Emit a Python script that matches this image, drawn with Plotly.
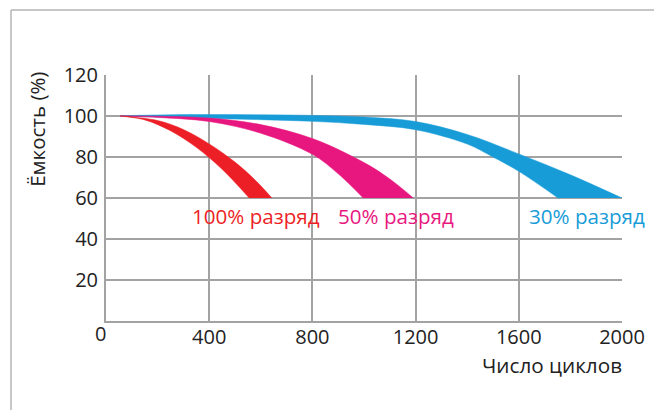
import plotly.graph_objects as go

# ---- data ----
x_ticks = [400, 800, 1200, 1600, 2000]
y_ticks = [20, 40, 60, 80, 100, 120]
y_grid = [20, 40, 60, 80, 100]

# 30% discharge (blue)
blue_up_c = [55, 200, 400, 600, 800, 1000, 1200, 1400, 1600, 1800, 2000]
blue_up_v = [100, 100.5, 100.7, 100.6, 100.3, 99.5, 97.3, 91, 81.5, 71.3, 60]
blue_lo_c = [55, 200, 400, 600, 800, 1000, 1200, 1400, 1500, 1600, 1752]
blue_lo_v = [100, 99.5, 98.8, 98.2, 97.4, 95.9, 93.3, 86.3, 80, 73, 60]

# 50% discharge (magenta)
mag_up_c = [55, 200, 400, 600, 800, 1000, 1100, 1191]
mag_up_v = [100, 99.9, 99.0, 95.8, 89, 77.3, 69.3, 60]
mag_lo_c = [55, 200, 400, 600, 800, 900, 997]
mag_lo_v = [100, 99.3, 97.3, 91.6, 81.3, 71.8, 60]

# 100% discharge (red)
red_up_c = [55, 200, 300, 400, 500, 580, 643]
red_up_v = [100, 97.8, 93.4, 86.4, 77.5, 68.5, 60]
red_lo_c = [55, 150, 250, 350, 450, 555]
red_lo_v = [100, 98.1, 92.8, 84.7, 74, 60]

labels = ["30% разряд", "50% разряд", "100% разряд"]
label_x = [1864, 1125, 581]
label_y = [51, 51, 51]

BLUE = "#189CD8"
MAG = "#E8177F"
RED = "#ED1F26"
GRID = "#A3A3A3"
TXT = "#222222"
FONT = "Open Sans"

fig = go.Figure()

bands = [
    (blue_up_c, blue_up_v, blue_lo_c, blue_lo_v, BLUE),
    (mag_up_c, mag_up_v, mag_lo_c, mag_lo_v, MAG),
    (red_up_c, red_up_v, red_lo_c, red_lo_v, RED),
]
for up_c, up_v, lo_c, lo_v, col in bands:
    # closed outline: upper edge from its end back to the start, then lower edge out
    xs = list(reversed(up_c)) + lo_c[1:]
    ys = list(reversed(up_v)) + lo_v[1:]
    fig.add_trace(go.Scatter(x=xs, y=ys, mode="lines", fill="toself", fillcolor=col,
                             line=dict(color=col, width=0.5, shape="spline", smoothing=1),
                             hoverinfo="skip", showlegend=False))

# secondary axis only for the horizontal grid lines
fig.add_trace(go.Scatter(x=[None], y=[None], yaxis="y2", showlegend=False))

annotations = []
for t, lx, ly, col in zip(labels, label_x, label_y, [BLUE, MAG, RED]):
    annotations.append(dict(x=lx, y=ly, xref="x", yref="y", text=t, showarrow=False,
                            font=dict(family=FONT, size=20.6, color=col),
                            xanchor="center", yanchor="middle"))
annotations.append(dict(x=0, y=0, xref="x", yref="y", text="0", showarrow=False,
                        font=dict(family=FONT, size=20, color=TXT),
                        xanchor="center", yanchor="middle", xshift=-6, yshift=-12))
annotations.append(dict(x=1, y=0, xref="paper", yref="paper", text="Число циклов",
                        showarrow=False, font=dict(family=FONT, size=20.7, color=TXT),
                        xanchor="right", yanchor="middle", yshift=-44, xshift=2))
annotations.append(dict(x=0, y=0.777, xref="paper", yref="paper", text="Ёмкость (%)",
                        showarrow=False, textangle=-90,
                        font=dict(family=FONT, size=20.5, color=TXT),
                        xanchor="center", yanchor="middle", xshift=-69))

fig.update_layout(
    width=654, height=402,
    margin=dict(l=98, r=40, t=67, b=89),
    paper_bgcolor="white", plot_bgcolor="white",
    font=dict(family=FONT, size=20, color=TXT),
    xaxis=dict(range=[0, 2000], tickvals=x_ticks, ticktext=[str(v) for v in x_ticks],
               showgrid=True, gridcolor=GRID, gridwidth=1.5,
               showline=True, linecolor=GRID, linewidth=2,
               ticks="", ticklabelstandoff=-3,
               zeroline=False, fixedrange=True),
    yaxis=dict(range=[0, 120], tickvals=y_ticks, ticktext=[str(v) for v in y_ticks],
               showgrid=False, showline=True, linecolor=GRID, linewidth=2,
               ticks="", ticklabelstandoff=2,
               zeroline=False, fixedrange=True),
    yaxis2=dict(range=[0, 120], overlaying="y", tickvals=y_grid, showticklabels=False,
                showgrid=True, gridcolor=GRID, gridwidth=1.5, zeroline=False,
                showline=False, fixedrange=True),
    annotations=annotations,
    shapes=[
        dict(type="line", xref="paper", yref="paper", x0=-0.1841, x1=1.1,
             y0=1.2642, y1=1.2642, line=dict(color="#B5B5B5", width=1.5)),
        dict(type="line", xref="paper", yref="paper", x0=-0.1841, x1=-0.1841,
             y0=1.2642, y1=-0.4, line=dict(color="#B5B5B5", width=1.5)),
    ],
)

fig.write_html("out.html")
